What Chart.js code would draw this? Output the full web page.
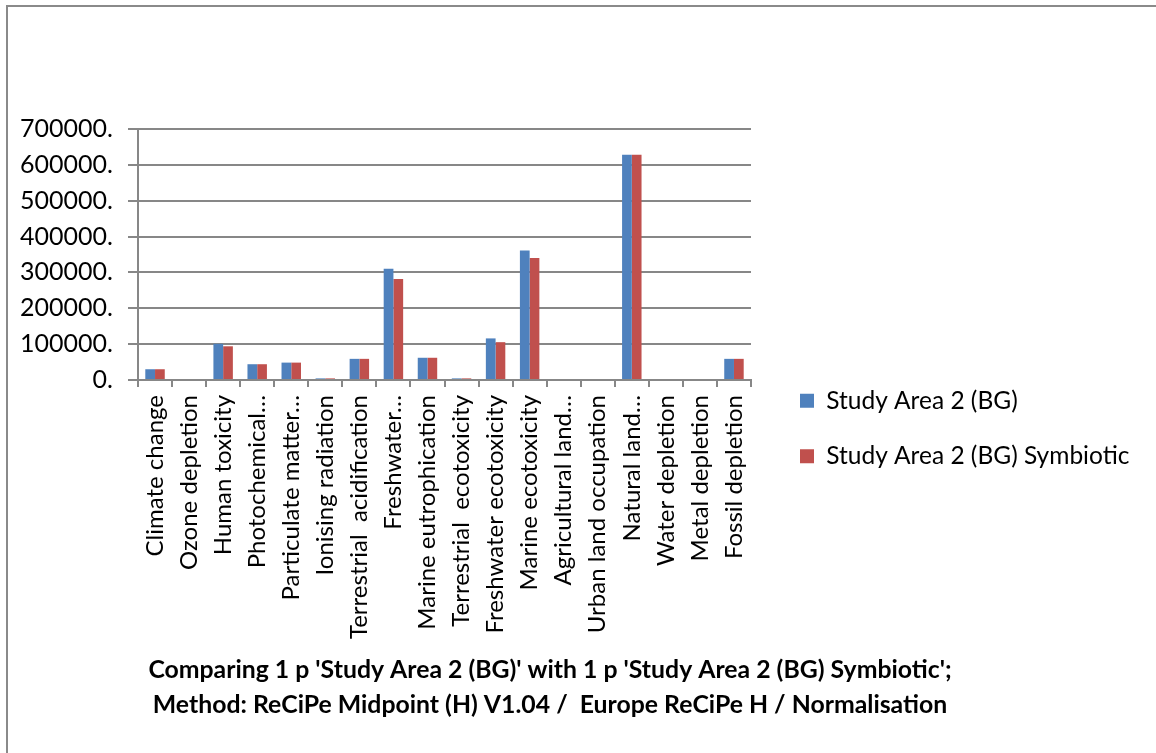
<!DOCTYPE html>
<html>
<head>
<meta charset="utf-8">
<title>ReCiPe Midpoint normalisation</title>
<script src="https://cdn.jsdelivr.net/npm/chart.js@4/dist/chart.umd.min.js"></script>
<style>
  html, body { margin: 0; padding: 0; background: #fff; overflow: hidden; }
  #frame { position: absolute; left: 6px; top: 5px; width: 2000px; height: 2000px;
           border-left: 2px solid #8a8a8a; border-top: 2px solid #8a8a8a; }
  #wrap { position: absolute; left: 0; top: 0; width: 1156px; height: 753px; }
</style>
</head>
<body>
<div id="frame"></div>
<div id="wrap"><canvas id="chart" width="1156" height="753"></canvas></div>
<script>
/* ---------- data ---------- */
const categories = [
  'Climate change', 'Ozone depletion', 'Human toxicity', 'Photochemical…',
  'Particulate matter…', 'Ionising radiation', 'Terrestrial  acidification', 'Freshwater…',
  'Marine eutrophication', 'Terrestrial  ecotoxicity', 'Freshwater ecotoxicity', 'Marine ecotoxicity',
  'Agricultural land…', 'Urban land occupation', 'Natural land…', 'Water depletion',
  'Metal depletion', 'Fossil depletion'
];
const studyArea = [
  30000, 0, 101000, 44000, 48500, 4500, 59000, 310500, 62000,
  4500, 116000, 361000, 0, 0, 628000, 0, 0, 59000
];
const studyAreaSymbiotic = [
  30000, 0, 94000, 44000, 48500, 4500, 59000, 281500, 62000,
  4500, 105500, 340000, 0, 0, 628000, 0, 0, 59000
];
const seriesNames = ['Study Area 2 (BG)', 'Study Area 2 (BG) Symbiotic'];
const yMax = 700000;
const yStep = 100000;
const titleLines = [
  "Comparing 1 p 'Study Area 2 (BG)' with 1 p 'Study Area 2 (BG) Symbiotic';",
  "Method: ReCiPe Midpoint (H) V1.04 /  Europe ReCiPe H / Normalisation"
];

/* ---------- layout ---------- */
const FONT = 'Lato';
const GRID = '#878787';
const legendFont = { family: FONT, size: 24.5 };
const legendPad = 31;

// measure the longest legend text so the legend box lands where the original has it
const mctx = document.createElement('canvas').getContext('2d');
mctx.font = `${legendFont.size}px ${FONT}`;
const textW = Math.max(...seriesNames.map(n => mctx.measureText(n).width));
const legendW = legendPad + 14 + legendFont.size / 2 + textW + 10;
const padRight = 1156 - (800 - legendPad + legendW);
const padLeft = 1100 - (1156 - padRight);   // keeps the title centred near x=550

new Chart(document.getElementById('chart'), {
  type: 'bar',
  data: {
    labels: categories,
    datasets: [
      { label: seriesNames[0], data: studyArea, backgroundColor: '#4F81BD' },
      { label: seriesNames[1], data: studyAreaSymbiotic, backgroundColor: '#C0504D' },
    ],
  },
  options: {
    responsive: false,
    animation: false,
    events: [],
    datasets: { bar: { categoryPercentage: 2 / 3.5, barPercentage: 1 } },
    layout: { padding: { top: 129, bottom: 25, left: padLeft, right: padRight } },
    plugins: {
      legend: {
        position: 'right',
        maxWidth: Math.ceil(legendW) + 2,
        labels: { font: legendFont, color: '#000', boxWidth: 14, boxHeight: 14, padding: legendPad },
      },
      title: {
        display: true,
        position: 'bottom',
        text: titleLines,
        color: '#000',
        font: { family: FONT, size: 24.8, weight: 'bold', lineHeight: 35 / 24.8 },
        padding: { top: 0, bottom: 5 },
      },
      tooltip: { enabled: false },
    },
    scales: {
      x: {
        grid: { offset: true, drawOnChartArea: false, tickLength: 7, color: GRID, lineWidth: 2 },
        border: { color: GRID, width: 2 },
        ticks: { autoSkip: false, maxRotation: 90, minRotation: 90, padding: 8, color: '#000',
                 font: { family: FONT, size: 24 } },
        afterFit: s => { s.height = 273; },
      },
      y: {
        min: 0, max: yMax,
        grid: { tickLength: 10, color: GRID, lineWidth: 2 },
        border: { color: GRID, width: 2 },
        ticks: { stepSize: yStep, padding: 15, color: '#000', font: { family: FONT, size: 25 },
                 callback: v => v + '.' },
        afterFit: s => { s.width = 138 - padLeft; },
      },
      gap: {
        type: 'linear', position: 'right', display: true,
        grid: { display: false }, border: { display: false }, ticks: { display: false },
        afterFit: s => { s.width = 18; },
      },
    },
  },
});
</script>
</body>
</html>
